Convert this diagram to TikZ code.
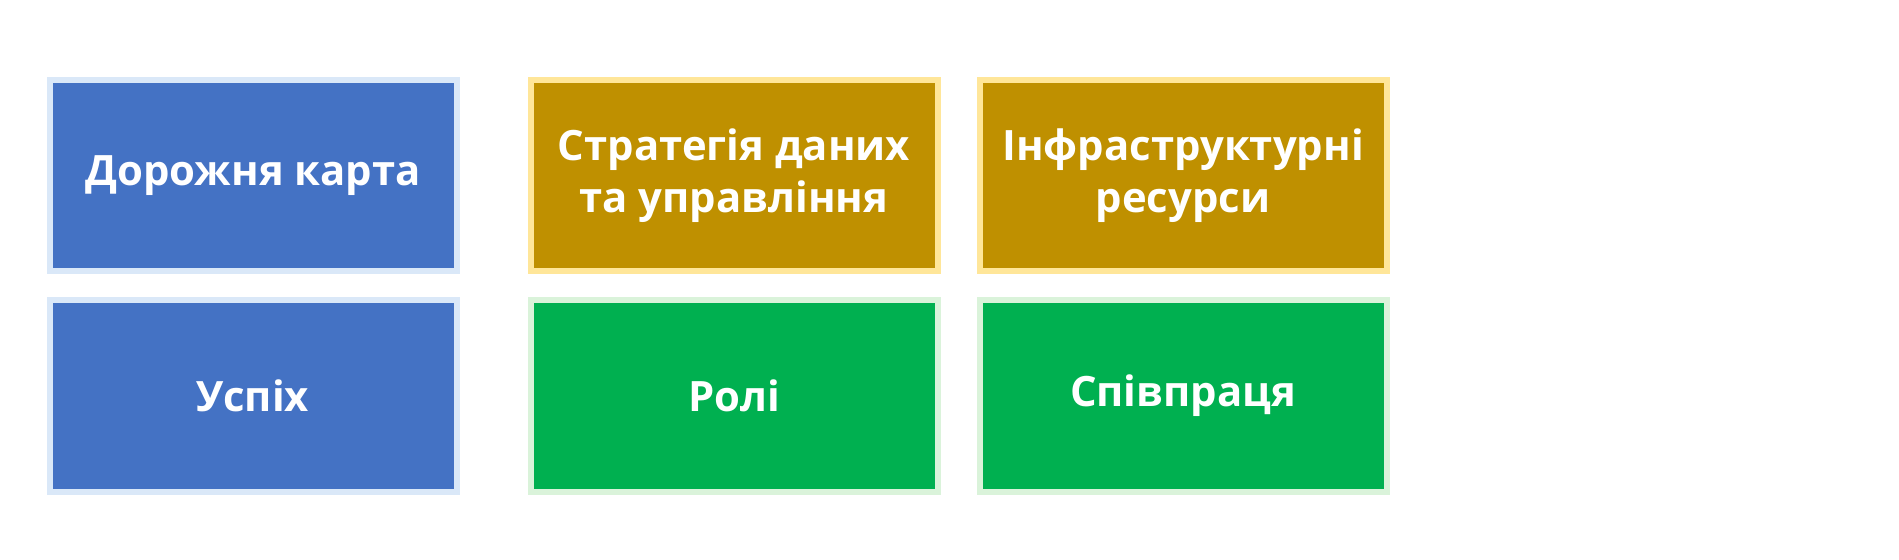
\documentclass[tikz,border=0pt]{standalone}
\usepackage{fontspec}
\setmainfont{Open Sans}
\begin{document}
\begin{tikzpicture}[x=0.02cm,y=-0.02cm,
    tile/.style={shape=rectangle,draw,line width=6*0.02cm,minimum width=407*0.02cm,minimum height=191*0.02cm,
      text=white,align=center,font=\fontsize{23.8}{29.5}\selectfont\bfseries}]
    \definecolor{road_fill}{RGB}{68,114,196}
    \definecolor{road_halo}{RGB}{218,232,248}
    \definecolor{infra_fill}{RGB}{191,144,0}
    \definecolor{infra_halo}{RGB}{255,230,153}
    \definecolor{team_fill}{RGB}{0,176,80}
    \definecolor{team_halo}{RGB}{218,243,218}
    \useasboundingbox (0,0) rectangle (1899,560);
    \node[tile,draw=road_halo,fill=road_fill] (roadmap) at (253,176) {Дорожня карта};
    \node[tile,draw=infra_halo,fill=infra_fill] (strategy) at (734,176) {Стратегія даних\\та управління};
    \node[tile,draw=infra_halo,fill=infra_fill] (infra) at (1183,176) {Інфраструктурні\\ресурси};
    \node[tile,draw=road_halo,fill=road_fill] (success) at (253,396) {Успіх};
    \node[tile,draw=team_halo,fill=team_fill] (roles) at (734,396) {Ролі};
    \node[tile,draw=team_halo,fill=team_fill] (collab) at (1183,396) {Співпраця};
\end{tikzpicture}
\end{document}
